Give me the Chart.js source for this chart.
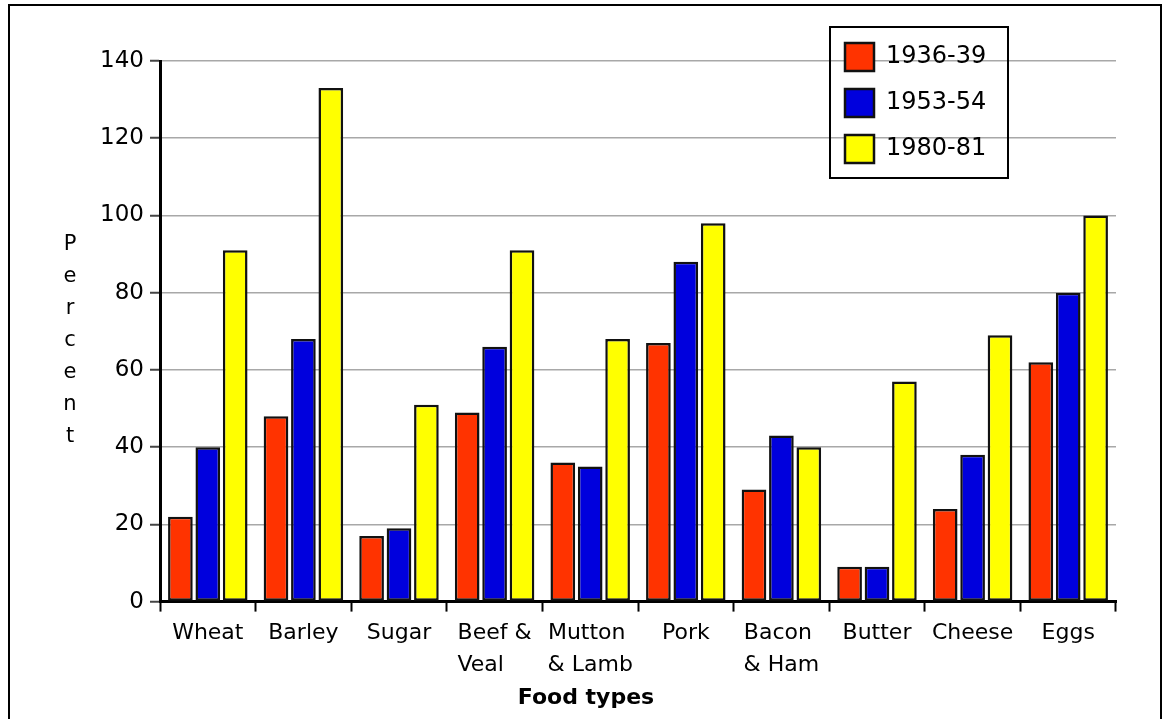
<!DOCTYPE html>
<html>
<head>
<meta charset="utf-8">
<script src="https://cdn.jsdelivr.net/npm/chart.js@4.4.0/dist/chart.umd.min.js"></script>
<style>
  html, body { margin: 0; padding: 0; background: #fff; }
  #wrap { width: 1164px; height: 719px; }
</style>
</head>
<body>
<div id="wrap"><canvas id="foodChart"></canvas></div>
<script>
// food categories (multi-line ones padded so the lines sit left-aligned)
var foodTypes = ['Wheat', 'Barley', 'Sugar', ['Beef &', 'Veal    '], ['Mutton ', '& Lamb'], 'Pork', ['Bacon ', '& Ham'], 'Butter', 'Cheese', 'Eggs'];
var periods = ['1936-39', '1953-54', '1980-81'];
var pct1936 = [22, 48, 17, 49, 36, 67, 29, 9, 24, 62];
var pct1953 = [40, 68, 19, 66, 35, 88, 43, 9, 38, 80];
var pct1980 = [91, 133, 51, 91, 68, 98, 40, 57, 69, 100];
var yTicks = [0, 20, 40, 60, 80, 100, 120, 140];
var barColours = ['#ff3300', '#0000dd', '#ffff00'];

Chart.defaults.font.family = '"DejaVu Sans", Verdana, sans-serif';
Chart.defaults.color = '#000';

// white background and the frame round the picture
var framePlugin = {
    id: 'frame',
    beforeDraw: function (chart) {
        var ctx = chart.ctx;
        ctx.save();
        ctx.fillStyle = '#fff';
        ctx.fillRect(0, 0, chart.width, chart.height);
        ctx.strokeStyle = '#000';
        ctx.lineWidth = 2;
        ctx.strokeRect(9, 5, 1152, chart.height + 20);
        ctx.restore();
    }
};

// "Percent" written downwards, one letter under the other
var yTitlePlugin = {
    id: 'yTitle',
    afterDraw: function (chart) {
        var ctx = chart.ctx;
        var a = chart.chartArea;
        var word = 'Percent';
        var mid = (a.top + a.bottom) / 2 + 9;
        ctx.save();
        ctx.font = '21px "DejaVu Sans"';
        ctx.fillStyle = '#000';
        ctx.textAlign = 'center';
        ctx.textBaseline = 'middle';
        for (var i = 0; i < word.length; i++) {
            ctx.fillText(word[i], 70, mid + (i - 3) * 32);
        }
        ctx.restore();
    }
};

// legend floats over the top right corner, inside a box;
// in the layout it only keeps a narrow right margin
var legendBoxPlugin = {
    id: 'legendBox',
    afterInit: function (chart) {
        var lg = chart.legend;
        var fit = lg.fit;
        lg.fit = function () {
            fit.call(this);
            this.realW = this.width;
            this.realH = this.height;
            this.width = 46;
        };
    },
    afterLayout: function (chart) {
        var lg = chart.legend;
        lg.left = 827;
        lg.top = 25;
        lg.width = lg.realW;
        lg.height = lg.realH;
        lg.right = lg.left + lg.width;
        lg.bottom = lg.top + lg.height;
    },
    afterDraw: function (chart) {
        var ctx = chart.ctx;
        ctx.save();
        ctx.strokeStyle = '#000';
        ctx.lineWidth = 2;
        ctx.strokeRect(830, 27, 178, 151);
        ctx.restore();
    }
};

var series = [pct1936, pct1953, pct1980];
var datasets = [];
for (var i = 0; i < periods.length; i++) {
    datasets.push({
        label: periods[i],
        data: series[i],
        backgroundColor: barColours[i],
        borderColor: '#111',
        borderWidth: 2.5,
        borderSkipped: false,
        categoryPercentage: 0.86,
        barPercentage: 0.9
    });
}

var foodChart = new Chart(document.getElementById('foodChart'), {
    type: 'bar',
    data: { labels: foodTypes, datasets: datasets },
    plugins: [framePlugin, yTitlePlugin, legendBoxPlugin],
    options: {
        responsive: true,
        maintainAspectRatio: false,
        animation: false,
        layout: { padding: { left: 10, right: 2, top: 61, bottom: 0 } },
        plugins: {
            tooltip: { enabled: false },
            legend: {
                position: 'right',
                align: 'start',
                labels: {
                    boxWidth: 29,
                    boxHeight: 28,
                    padding: 18,
                    font: { size: 24 },
                    color: '#000'
                }
            },
            title: {
                display: true,
                position: 'bottom',
                text: 'Food types',
                font: { size: 22, weight: 'bold', lineHeight: 1.2 },
                color: '#000',
                padding: { top: 4, bottom: 8 }
            }
        },
        scales: {
            x: {
                grid: {
                    display: true,
                    offset: true,
                    drawOnChartArea: false,
                    drawTicks: true,
                    tickLength: 10,
                    tickWidth: 2,
                    tickColor: '#000'
                },
                border: { color: '#000', width: 3 },
                ticks: {
                    font: { size: 22, lineHeight: 1.45 },
                    color: '#000',
                    padding: 6,
                    maxRotation: 0,
                    autoSkip: false
                },
                afterFit: function (scale) { scale.height = 79; }
            },
            y: {
                min: yTicks[0],
                max: yTicks[yTicks.length - 1],
                grid: {
                    color: '#a8a8a8',
                    lineWidth: 1.5,
                    tickLength: 10,
                    tickColor: '#444',
                    tickWidth: 2
                },
                border: { color: '#000', width: 3 },
                ticks: {
                    stepSize: yTicks[1] - yTicks[0],
                    font: { size: 23 },
                    color: '#000',
                    padding: 6
                },
                afterFit: function (scale) { scale.width = 150; }
            }
        }
    }
});
</script>
</body>
</html>
